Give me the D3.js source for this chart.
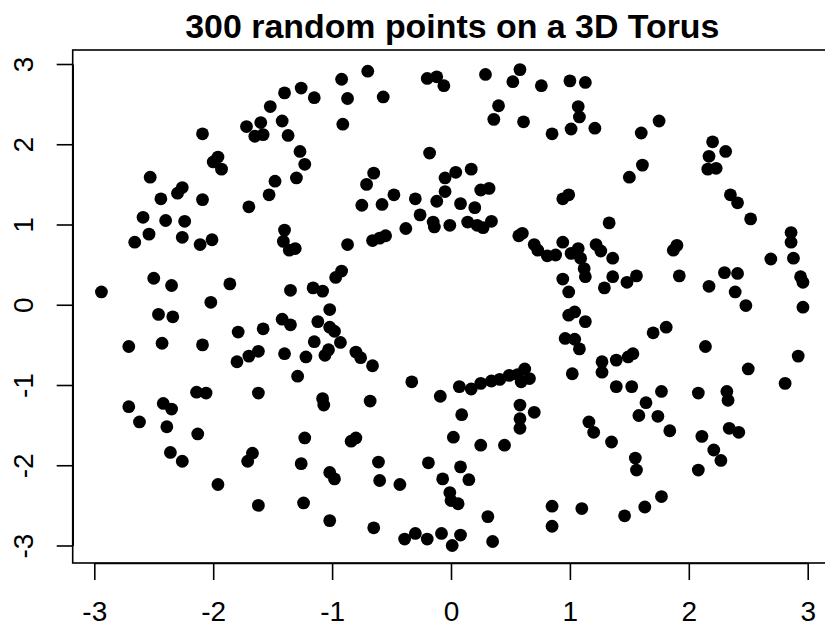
<!DOCTYPE html>
<html><head><meta charset="utf-8">
<script src="https://cdn.jsdelivr.net/npm/d3@7"></script>
<style>body{margin:0;background:#fff}</style>
</head><body>
<svg id="chart" width="825" height="628"></svg>
<script>
const title = "300 random points on a 3D Torus";
const xTicks = [-3, -2, -1, 0, 1, 2, 3];
const yTicks = [-3, -2, -1, 0, 1, 2, 3];

// [x, y] points, grouped by region of the picture
const topLeft = [[-1.40,2.64],[-1.26,2.70],[-1.15,2.58],[-1.52,2.47],[-1.72,2.22],[-1.60,2.27],[-1.65,2.10],[-1.58,2.12],[-1.42,2.29],[-1.37,2.11],[-2.09,2.13],[-1.27,1.91],[-1.23,1.75],[-2.00,1.78],[-1.96,1.84],[-1.93,1.69],[-1.48,1.54],[-1.30,1.58],[-1.53,1.37],[-1.70,1.22],[-2.53,1.59],[-2.44,1.32],[-2.30,1.39],[-2.26,1.46],[-2.09,1.31],[-2.59,1.09],[-2.40,1.05],[-2.24,1.04]];
const midLeft = [[-2.66,0.78],[-2.54,0.88],[-2.26,0.84],[-2.11,0.75],[-2.01,0.81],[-1.40,0.93],[-1.41,0.79],[-1.36,0.68],[-1.31,0.70],[-2.50,0.33],[-2.35,0.24],[-2.94,0.16],[-1.86,0.26],[-2.02,0.03],[-1.35,0.18],[-1.16,0.21],[-1.08,0.17],[-2.46,-0.12],[-2.34,-0.15],[-2.71,-0.52],[-2.43,-0.48],[-2.09,-0.50],[-1.79,-0.34],[-1.58,-0.30],[-1.42,-0.18],[-1.35,-0.25],[-1.12,-0.21],[-1.02,-0.06],[-1.80,-0.71],[-1.70,-0.64],[-1.62,-0.58],[-1.40,-0.61],[-1.22,-0.65],[-1.15,-0.46],[-1.06,-0.63],[-1.03,-0.56],[-1.29,-0.89],[-2.14,-1.09],[-2.06,-1.10],[-1.62,-1.10]];
const bottomLeft = [[-1.08,-1.17],[-1.07,-1.25],[-2.71,-1.27],[-2.42,-1.23],[-2.35,-1.30],[-2.62,-1.46],[-2.39,-1.52],[-2.13,-1.61],[-1.23,-1.66],[-2.36,-1.84],[-2.26,-1.95],[-1.67,-1.85],[-1.71,-1.95],[-1.26,-1.98],[-1.02,-2.09],[-0.98,-2.17],[-1.96,-2.24],[-1.62,-2.50],[-1.24,-2.47],[-1.02,-2.69]];
const topCenter = [[-0.92,2.81],[-0.70,2.91],[-0.87,2.57],[-0.57,2.59],[-0.91,2.25],[-0.20,2.82],[-0.12,2.84],[-0.06,2.73],[0.29,2.87],[0.58,2.93],[0.52,2.78],[0.76,2.73],[1.00,2.79],[1.13,2.77],[0.40,2.48],[0.36,2.31],[0.61,2.28],[0.85,2.13],[1.01,2.19],[1.07,2.47],[1.08,2.34],[-0.18,1.89],[-0.65,1.64],[-0.71,1.50],[-0.75,1.24],[-0.58,1.25],[-0.48,1.37],[-0.30,1.32],[-0.26,1.12],[-0.12,1.29],[-0.05,1.41],[-0.05,1.58],[0.04,1.65],[0.17,1.69],[0.25,1.43],[0.32,1.45],[0.08,1.26],[0.20,1.21],[-0.15,1.03],[-0.14,0.97],[-0.01,0.99],[0.14,1.03],[0.22,0.99],[0.27,0.96],[0.34,1.04],[0.94,1.32],[0.99,1.37]];
const midCenter = [[-0.38,0.95],[-0.66,0.80],[-0.60,0.83],[-0.55,0.86],[-0.87,0.75],[-0.92,0.42],[-0.97,0.34],[-1.02,-0.28],[-0.98,-0.33],[-0.93,-0.47],[-0.80,-0.59],[-0.76,-0.66],[-0.66,-0.76],[-0.33,-0.96],[-0.09,-1.14],[0.07,-1.02],[0.17,-1.05],[0.25,-0.98],[0.34,-0.95],[0.41,-0.93],[0.49,-0.88],[0.56,-0.87],[0.62,-0.80],[0.59,-0.96],[0.66,-0.92],[0.57,0.86],[0.60,0.89],[0.70,0.75],[0.73,0.68],[0.81,0.61],[0.88,0.62],[0.94,0.78],[1.01,0.64],[1.07,0.70],[1.09,0.58],[1.12,0.45],[1.13,0.35],[0.94,0.32],[0.99,0.16],[0.99,-0.13],[1.04,-0.09],[0.96,-0.42],[1.04,-0.43],[1.08,-0.55],[1.02,-0.86]];
const midRight = [[1.33,1.02],[2.52,1.07],[2.86,0.90],[2.86,0.78],[1.22,0.75],[1.26,0.67],[1.36,0.58],[1.87,0.68],[1.90,0.74],[1.36,0.35],[1.29,0.21],[1.48,0.28],[1.56,0.36],[1.92,0.36],[2.17,0.23],[2.30,0.40],[2.41,0.39],[2.39,0.16],[2.48,-0.01],[2.69,0.57],[2.88,0.58],[2.94,0.35],[2.96,0.28],[2.96,-0.03],[1.13,-0.21],[1.70,-0.35],[1.81,-0.28],[2.14,-0.52],[1.27,-0.71],[1.27,-0.84],[1.39,-0.69],[1.49,-0.65],[1.53,-0.61],[2.50,-0.80],[2.92,-0.64],[1.39,-1.02],[1.52,-1.02],[1.77,-1.08],[2.08,-1.10],[2.32,-1.08],[2.33,-1.19],[2.81,-0.98]];
const topRight = [[1.21,2.20],[1.60,2.14],[1.75,2.29],[1.61,1.74],[1.50,1.59],[2.20,2.03],[2.31,1.91],[2.17,1.85],[2.16,1.69],[2.23,1.70],[2.35,1.37],[2.41,1.27]];
const bottomCenter = [[-0.68,-1.20],[0.09,-1.37],[0.58,-1.25],[0.58,-1.42],[0.58,-1.54],[0.70,-1.34],[-0.84,-1.70],[-0.80,-1.66],[0.02,-1.65],[0.25,-1.75],[0.45,-1.75],[-0.61,-1.96],[-0.19,-1.97],[0.08,-2.02],[-0.60,-2.19],[-0.43,-2.24],[-0.07,-2.17],[0.15,-2.18],[-0.01,-2.34],[0.00,-2.44],[0.06,-2.48],[-0.65,-2.78],[0.31,-2.64],[0.85,-2.51],[0.85,-2.76],[-0.39,-2.92],[-0.30,-2.85],[-0.20,-2.92],[-0.08,-2.85],[0.08,-2.87],[0.01,-3.00],[0.35,-2.95]];
const bottomRight = [[1.64,-1.22],[1.58,-1.38],[1.74,-1.39],[1.16,-1.46],[1.20,-1.59],[1.35,-1.71],[1.84,-1.57],[2.11,-1.64],[2.34,-1.54],[2.42,-1.59],[2.21,-1.81],[2.27,-1.94],[1.55,-1.91],[1.56,-2.06],[2.08,-2.06],[1.10,-2.54],[1.46,-2.63],[1.63,-2.52],[1.77,-2.39]];

const points = [].concat(topLeft, midLeft, bottomLeft, topCenter, midCenter, bottomCenter, topRight, midRight, bottomRight);

const svg = d3.select("#chart");
const font = "'Liberation Sans', Arial, Helvetica, sans-serif";
const box = {left: 72.7, right: 832, top: 50, bottom: 563};
const x = d3.scaleLinear().domain([-3, 3]).range([94.3, 807.7]);
const y = d3.scaleLinear().domain([-3, 3]).range([545.5, 64]);

svg.append("rect").attr("width", 825).attr("height", 628).attr("fill", "#fff");

svg.append("g").selectAll("circle").data(points).join("circle")
  .attr("cx", d => x(d[0])).attr("cy", d => y(d[1])).attr("r", 6.4).attr("fill", "#000");

svg.append("rect").attr("x", box.left).attr("y", box.top)
  .attr("width", box.right - box.left).attr("height", box.bottom - box.top)
  .attr("fill", "none").attr("stroke", "#000").attr("stroke-width", 1.6);

const xAxis = svg.append("g").attr("transform", `translate(0,${box.bottom})`)
  .call(d3.axisBottom(x).tickValues(xTicks).tickSize(17).tickSizeOuter(0).tickPadding(21).tickFormat(d3.format("d")));
const yAxis = svg.append("g").attr("transform", `translate(${box.left},0)`)
  .call(d3.axisLeft(y).tickValues(yTicks).tickSize(16).tickSizeOuter(0).tickFormat(d3.format("d")));

[xAxis, yAxis].forEach(g => {
  g.select(".domain").attr("stroke", "#000").attr("stroke-width", 1.6);
  g.selectAll(".tick line").attr("stroke", "#000").attr("stroke-width", 1.6);
  g.selectAll(".tick text").attr("font-family", font).attr("font-size", 28).attr("fill", "#000");
});
yAxis.selectAll(".tick text")
  .attr("x", null).attr("dy", null)
  .attr("text-anchor", "middle")
  .attr("transform", "translate(-39.5,0) rotate(-90)");
xAxis.selectAll(".tick text").text(d => d < 0 ? "-" + Math.abs(d) : d);
yAxis.selectAll(".tick text").text(d => d < 0 ? "-" + Math.abs(d) : d);

svg.append("text").attr("x", (box.left + box.right) / 2).attr("y", 38)
  .attr("text-anchor", "middle").attr("font-family", font).attr("font-weight", "bold")
  .attr("font-size", 33.9).attr("fill", "#000").text(title);
</script>
</body></html>
